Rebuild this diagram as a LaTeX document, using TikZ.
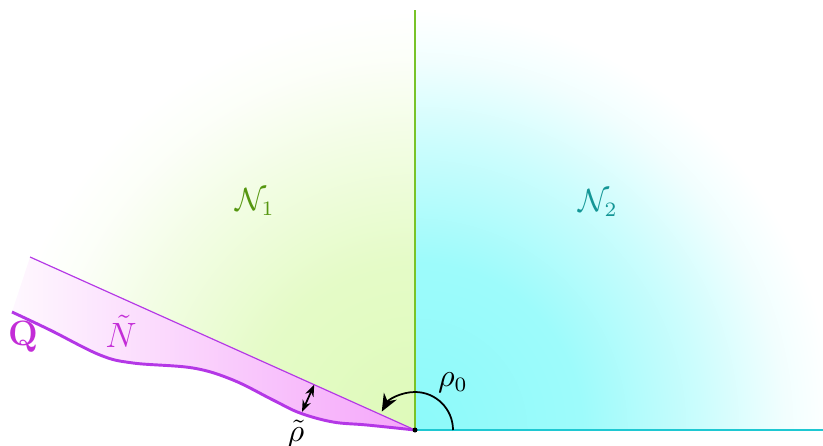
\documentclass[tikz,border=0pt]{standalone}
\usepackage{amsmath,amssymb,amsfonts}
\usetikzlibrary{arrows.meta,calc}

\definecolor{greenfill}{RGB}{222,250,185}
\definecolor{greenline}{RGB}{120,195,40}
\definecolor{greentext}{RGB}{85,150,15}
\definecolor{cyanfill}{RGB}{140,250,250}
\definecolor{cyanline}{RGB}{30,200,210}
\definecolor{cyantext}{RGB}{20,150,150}
\definecolor{magline}{RGB}{180,55,230}
\definecolor{magtext}{RGB}{195,45,215}
\definecolor{magfill}{RGB}{245,165,250}

\pgfdeclareradialshading{cyanfade}{\pgfpoint{0bp}{0bp}}{color(0bp)=(cyanfill); color(10bp)=(cyanfill!85!white); color(17bp)=(cyanfill!45!white); color(22bp)=(cyanfill!12!white); color(25bp)=(white); color(50bp)=(white)}
\pgfdeclareradialshading{greenfade}{\pgfpoint{0bp}{0bp}}{color(0bp)=(greenfill); color(10bp)=(greenfill!80!white); color(17bp)=(greenfill!40!white); color(22bp)=(greenfill!10!white); color(25bp)=(white); color(50bp)=(white)}

\begin{document}
\begin{tikzpicture}[
    x=0.012cm, y=0.012cm,
    label/.style={font=\fontsize{10.5}{12}\selectfont, inner sep=1pt},
    gap/.style={<->, >={Stealth[length=4pt,width=3pt]}, line width=0.6pt},
    turn/.style={->, >={Stealth[length=6pt,width=5pt]}, line width=0.6pt}
]
    \useasboundingbox (-415,-15) rectangle (408,430);

    % Points
    \coordinate (o) at (0,0);
    \coordinate (top) at (0,420);
    \coordinate (right) at (408,0);
    \coordinate (left) at (155.8:422);
    \coordinate (qstart) at (-403,118);

    % Regions
    \begin{scope}
        \clip (o) -- (420,0) arc[start angle=0, end angle=90, radius=420] -- cycle;
        \shade[shading=cyanfade] (o) circle (420);
    \end{scope}
    \begin{scope}
        \clip (o) -- (top) arc[start angle=90, end angle=155.8, radius=420] -- cycle;
        \shade[shading=greenfade] (o) circle (420);
    \end{scope}
    \shade[left color=magfill!8!white, right color=magfill] (o) -- (left) -- (qstart)
        -- plot[smooth, tension=0.6] coordinates {(-365,100) (-315,75) (-282,67) (-222,62) (-182,50) (-142,30) (-115,17) (-82,8) (-48,5)} -- cycle;

    % Boundaries
    \draw[greenline, line width=0.4pt] (o) -- (top);
    \draw[cyanline, line width=1pt] (o) -- (right);
    \draw[magline, line width=0.4pt] (o) -- (left);
    \draw[magline, line width=1pt] plot[smooth, tension=0.6] coordinates {(-403,118) (-365,100) (-315,75) (-282,67) (-222,62) (-182,50) (-142,30) (-115,17) (-82,8) (-48,5) (0,0)};
    \fill (o) circle (2.5);

    % Angles
    \coordinate (gapin) at (-113,18);
    \coordinate (gapout) at (155.8:110.5);
    \draw[gap] (gapin) -- (gapout);
    \coordinate (arcstart) at (38,0);
    \draw[turn] (arcstart) arc[start angle=0, end angle=151, radius=38];

    % Labels
    \node[label, text=greentext] (n1) at (-160,228) {$\mathcal{N}_1$};
    \node[label, text=cyantext] (n2) at (183,227) {$\mathcal{N}_2$};
    \node[label, text=magtext, font=\fontsize{12}{14}\selectfont] (q) at (-392,93) {$\mathbf{Q}$};
    \node[label, text=magtext, font=\fontsize{11.5}{13}\selectfont] (nt) at (-294,99) {$\tilde{N}$};
    \node[label] (rho0) at (38,47) {$\rho_0$};
    \node[label] (rhot) at (-119,-4) {$\tilde{\rho}$};
\end{tikzpicture}
\end{document}
